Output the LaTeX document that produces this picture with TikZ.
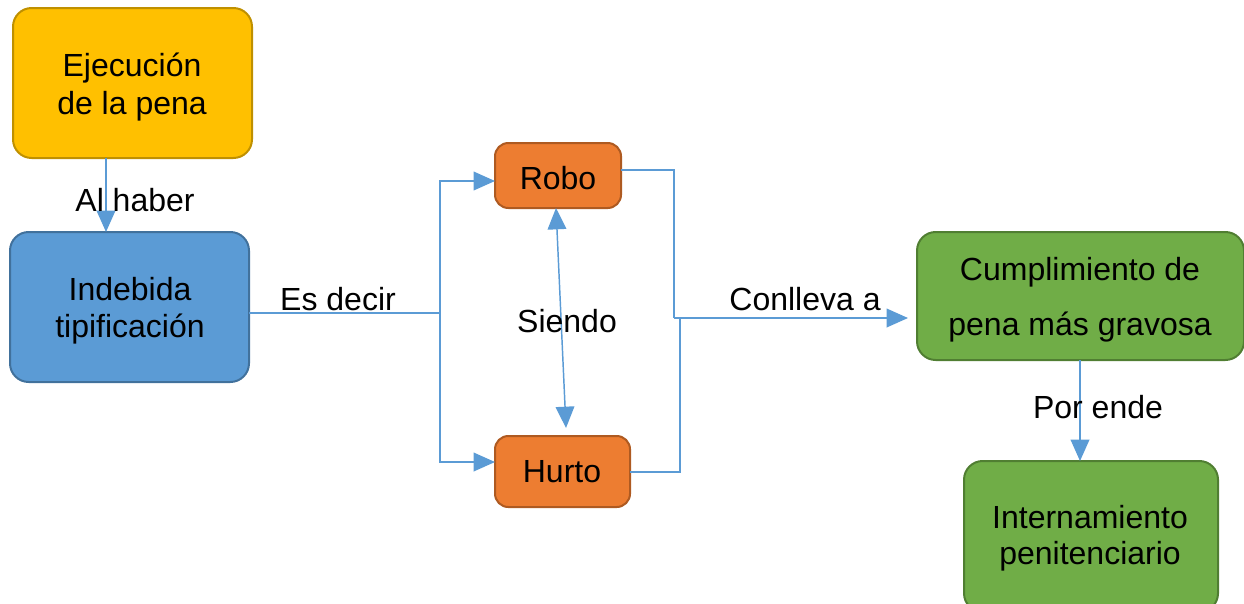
\documentclass[tikz,border=0pt]{standalone}
\usepackage{fontspec}
\setmainfont{Liberation Sans}
\usetikzlibrary{arrows.meta}
\definecolor{cyel}{HTML}{FFC000}
\definecolor{cyelb}{HTML}{BF9000}
\definecolor{cblu}{HTML}{5B9BD5}
\definecolor{cblub}{HTML}{41719C}
\definecolor{corg}{HTML}{ED7D31}
\definecolor{corgb}{HTML}{AE5A21}
\definecolor{cgrn}{HTML}{70AD47}
\definecolor{cgrnb}{HTML}{507E32}
\definecolor{cline}{HTML}{5B9BD5}
\begin{document}
\begin{tikzpicture}[x=0.75pt,y=-0.75pt,
  box/.style={rounded corners=14pt,line width=1.5pt,align=center,inner sep=0pt,
    font=\fontsize{24}{28}\selectfont},
  conn/.style={draw=cline,line width=1.1pt},
  tip/.tip={Triangle[length=16pt,width=14pt]},
  arr/.style={conn,-tip},
  lbl/.style={font=\fontsize{24}{28}\selectfont,inner sep=1pt}]
\useasboundingbox (0,0) rectangle (1244,603);
\path[box,fill=cyel,draw=cyelb] (13,8) rectangle (252,158);
\node[box] (eje) at (132,87) {Ejecución\\de la pena};
\path[box,fill=cblu,draw=cblub] (10,232) rectangle (249,382);
\node[box] (ind) at (130,311) {Indebida\\tipificación};
\path[box,fill=corg,draw=corgb,rounded corners=10pt] (495,143) rectangle (621,208);
\node[box] (rob) at (558,178) {Robo};
\path[box,fill=corg,draw=corgb,rounded corners=10pt] (495,436) rectangle (630,507);
\node[box] (hur) at (562,472) {Hurto};
\path[box,fill=cgrn,draw=cgrnb] (917,232) rectangle (1244,360);
\node[box,font=\fontsize{24}{41}\selectfont] (cum) at (1080,300) {Cumplimiento de\\pena más gravosa};
\path[box,fill=cgrn,draw=cgrnb] (964,461) rectangle (1218,612);
\node[box,font=\fontsize{24}{27}\selectfont] (int) at (1090,538) {Internamiento\\penitenciario};
% coordinates
\coordinate (a1) at (106,158);
\coordinate (a2) at (106,232);
\coordinate (b1) at (249,313);
\coordinate (b2) at (440,313);
\coordinate (rt) at (495,181);
\coordinate (ht) at (495,462);
\coordinate (r1) at (621,170);
\coordinate (r2) at (674,170);
\coordinate (r3) at (674,318);
\coordinate (h1) at (630,472);
\coordinate (h2) at (680,472);
\coordinate (h3) at (680,318);
\coordinate (c1) at (908,318);
\coordinate (s1) at (556,208);
\coordinate (s2) at (566,428);
\coordinate (p1) at (1080,360);
\coordinate (p2) at (1080,461);
% connectors
\draw[arr] (a1) -- (a2);
\draw[conn] (b1) -- (b2);
\draw[arr] (b2) |- (rt);
\draw[arr] (b2) |- (ht);
\draw[conn] (r1) -- (r2) -- (r3);
\draw[conn] (h1) -- (h2) -- (h3);
\draw[arr] (r3) -- (c1);
\draw[conn,tip-tip] (s1) -- (s2);
\draw[arr] (p1) -- (p2);
% labels
\node[lbl] (l1) at (135,200) {Al haber};
\node[lbl] (l2) at (338,299) {Es decir};
\node[lbl] (l3) at (567,321) {Siendo};
\node[lbl] (l4) at (805,299) {Conlleva a};
\node[lbl] (l5) at (1098,407) {Por ende};
\end{tikzpicture}
\end{document}
